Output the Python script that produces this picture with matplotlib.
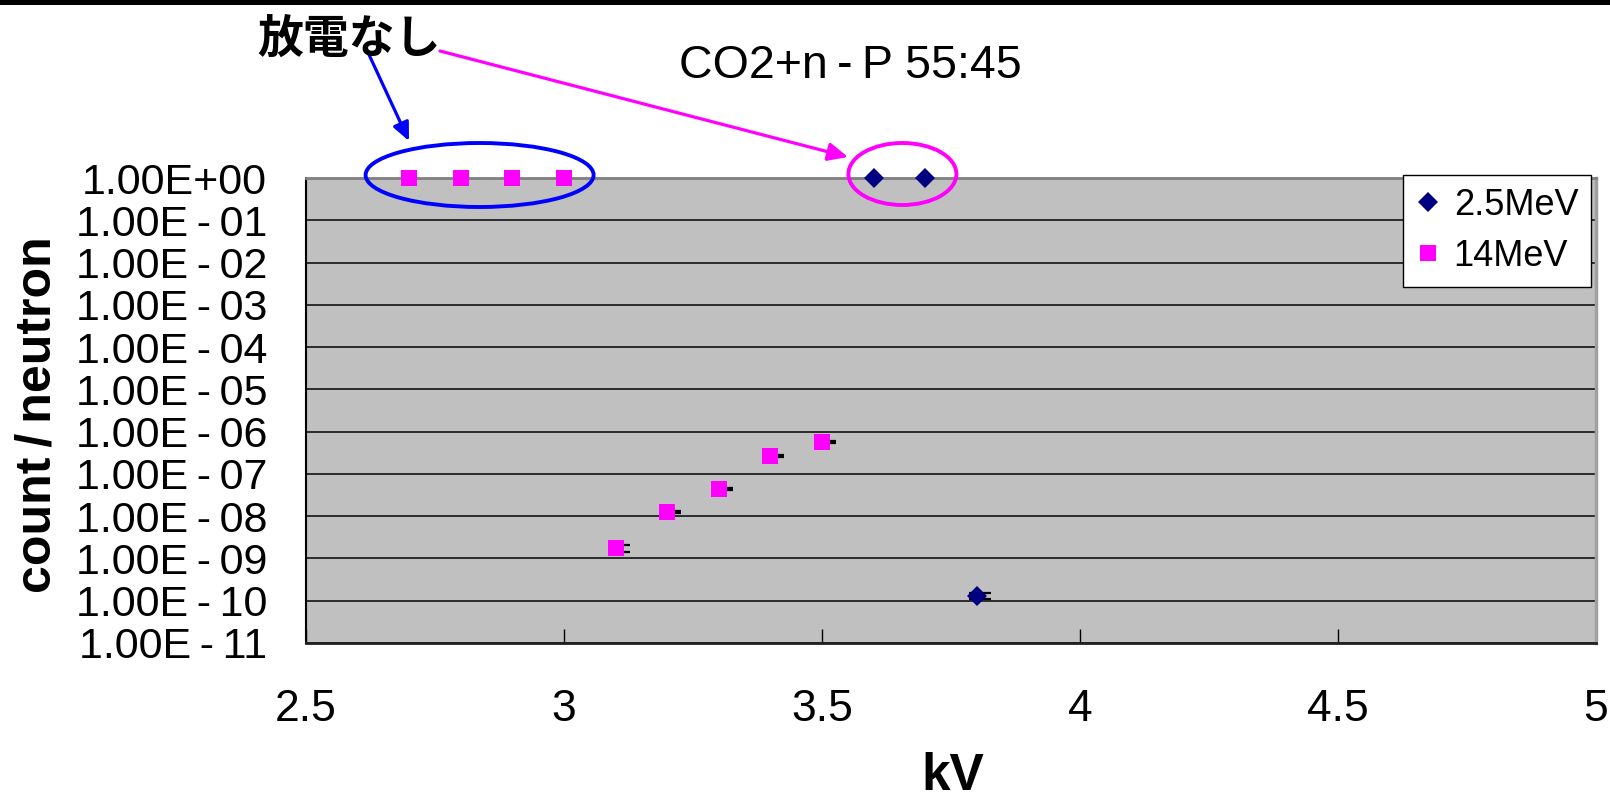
import numpy as np
import matplotlib
matplotlib.use("Agg")
import matplotlib.pyplot as plt
from matplotlib.patches import Ellipse, Rectangle, FancyArrowPatch
from matplotlib.transforms import IdentityTransform
from matplotlib.ticker import FixedLocator, NullLocator, FixedFormatter

plt.rcParams['font.family'] = ['Liberation Sans', 'DejaVu Sans']

# ---------------- data ----------------
x_25 = [3.6, 3.7, 3.8]
y_25 = [1.0, 1.0, 1.32e-10]
err_25 = [0.0, 0.0, 0.2e-10]

x_14 = [2.7, 2.8, 2.9, 3.0, 3.1, 3.2, 3.3, 3.4, 3.5]
y_14 = [1.0, 1.0, 1.0, 1.0, 1.74e-9, 1.25e-8, 4.4e-8, 2.65e-7, 5.7e-7]
err_14 = [0.0, 0.0, 0.0, 0.0, 0.35e-9, 0.06e-8, 0.2e-8, 0.12e-7, 0.3e-7]

labels_series = ["2.5MeV", "14MeV"]
title_text = "CO2+n\u2009-\u2009P 55:45"
note_text = "放電なし"
xlabel_text = "kV"
ylabel_text = "count\u2009/\u2009neutron"

x_ticks = [2.5, 3.0, 3.5, 4.0, 4.5, 5.0]
x_ticklabels = ["2.5", "3", "3.5", "4", "4.5", "5"]
y_exps = list(range(0, -12, -1))
y_ticks = [10.0 ** e for e in y_exps]
y_ticklabels = ["1.00E+00"] + ["1.00E\u2009-\u2009%02d" % (-e) for e in y_exps[1:]]

circled_nodischarge = x_14[:4]
circled_25 = x_25[:2]

# ---------------- figure ----------------
W, H = 1610, 799
fig = plt.figure(figsize=(W / 100, H / 100), dpi=100)
L, R, T, B = 306, 1596, 178, 643
ax = fig.add_axes([L / W, 1 - B / H, (R - L) / W, (B - T) / H])
ax.set_facecolor("#C0C0C0")
ax.set_xlim(2.5, 5.0)
ax.set_yscale("log")
ax.set_ylim(1e-11, 1.0)

navy = "#000080"
magenta = "#FF00FF"

# error bars (only where an error exists)
cap_marker = [(-0.6, 0.0), (1.0, 0.0)]
for xs, ys, es in ((x_25, y_25, err_25), (x_14, y_14, err_14)):
    xe = [x for x, e in zip(xs, es) if e > 0]
    ye = [y for y, e in zip(ys, es) if e > 0]
    ee = [e for e in es if e > 0]
    eb = ax.errorbar(xe, ye, yerr=ee, fmt="none", ecolor="black",
                     elinewidth=1.2, capsize=10, capthick=1.6, zorder=3)
    for cl in eb[1]:
        cl.set_marker(cap_marker)
        cl.set_markersize(20)

h25, = ax.plot(x_25, y_25, linestyle="none", marker="D", ms=10, mew=0,
               color=navy, zorder=4, clip_on=False, label=labels_series[0])
h14, = ax.plot(x_14, y_14, linestyle="none", marker="s", ms=12, mew=0,
               color=magenta, zorder=4, clip_on=False, label=labels_series[1])

# axes styling
ax.yaxis.set_major_locator(FixedLocator(y_ticks))
ax.yaxis.set_major_formatter(FixedFormatter(y_ticklabels))
ax.yaxis.set_minor_locator(NullLocator())
ax.set_xticks(x_ticks)
ax.set_xticklabels(x_ticklabels)
ax.tick_params(axis="y", length=0, pad=28, labelsize=31, colors="black")
ax.tick_params(axis="x", direction="in", length=10, width=1, pad=33,
               labelsize=32, colors="black")
ax.grid(axis="y", color="#202020", linewidth=1.3)
ax.set_axisbelow(True)
ax.spines["top"].set_color("#808080")
ax.spines["top"].set_linewidth(2)
ax.spines["right"].set_color("#A0A0A0")
ax.spines["right"].set_linewidth(2.5)
ax.spines["left"].set_color("black")
ax.spines["left"].set_linewidth(1.5)
ax.spines["bottom"].set_color("#202020")
ax.spines["bottom"].set_linewidth(2)
for sp in ax.spines.values():
    sp.set_zorder(2.6)

leg = fig.legend(handles=[h25, h14], loc="upper right",
                 bbox_to_anchor=(1591 / W, 1 - 175 / H),
                 bbox_transform=fig.transFigure, borderaxespad=0,
                 fontsize=26, frameon=True, fancybox=False, framealpha=1,
                 edgecolor="black", borderpad=0.35, handlelength=0.7,
                 handletextpad=0.36, labelspacing=0.45, numpoints=1)
leg.get_frame().set_linewidth(1.0)

# texts
fig.text(850 / W, 1 - 66 / H, title_text, ha="center", va="center",
         fontsize=33.5, color="black")
fig.text(953 / W, 1 - 776 / H, xlabel_text, ha="center", va="center",
         fontsize=37, fontweight="bold", color="black")
fig.text(38 / W, 1 - 415 / H, ylabel_text, ha="center", va="center",
         rotation=90, fontsize=36, fontweight="bold", color="black")
fig.text(349 / W, 1 - 40 / H, note_text, ha="center", va="center",
         fontsize=33, fontweight="bold", color="black",
         family=["Noto Sans CJK JP", "DejaVu Sans"])

# black bar at the very top
fig.add_artist(Rectangle((0, 1 - 5 / H), 1, 5 / H, transform=fig.transFigure,
                         facecolor="black", edgecolor="none"))

# ellipses around the circled points (display pixel coordinates)
fig.canvas.draw()
def disp(x, y):
    return ax.transData.transform((x, y))

cb = disp(np.mean(circled_nodischarge), 1.0)
e1 = Ellipse((cb[0] - 7, cb[1] + 3), 228, 64, transform=IdentityTransform(),
             fill=False, edgecolor="#0000FF", linewidth=2.8, clip_on=False)
fig.add_artist(e1)
cm = disp(np.mean(circled_25), 1.0)
e2 = Ellipse((cm[0] + 3, cm[1] + 4), 108, 62, transform=IdentityTransform(),
             fill=False, edgecolor=magenta, linewidth=2.8, clip_on=False)
fig.add_artist(e2)

# arrows
a1 = FancyArrowPatch((365, H - 46), (409, H - 141), transform=IdentityTransform(),
                     arrowstyle="-|>,head_length=11,head_width=5",
                     mutation_scale=1, color="#0000FF", linewidth=2.3,
                     shrinkA=0, shrinkB=0)
fig.add_artist(a1)
a2 = FancyArrowPatch((440, H - 51), (848, H - 157), transform=IdentityTransform(),
                     arrowstyle="-|>,head_length=12,head_width=5.5",
                     mutation_scale=1, color=magenta, linewidth=2.3,
                     shrinkA=0, shrinkB=0)
fig.add_artist(a2)

fig.savefig("out.png", dpi=100)
